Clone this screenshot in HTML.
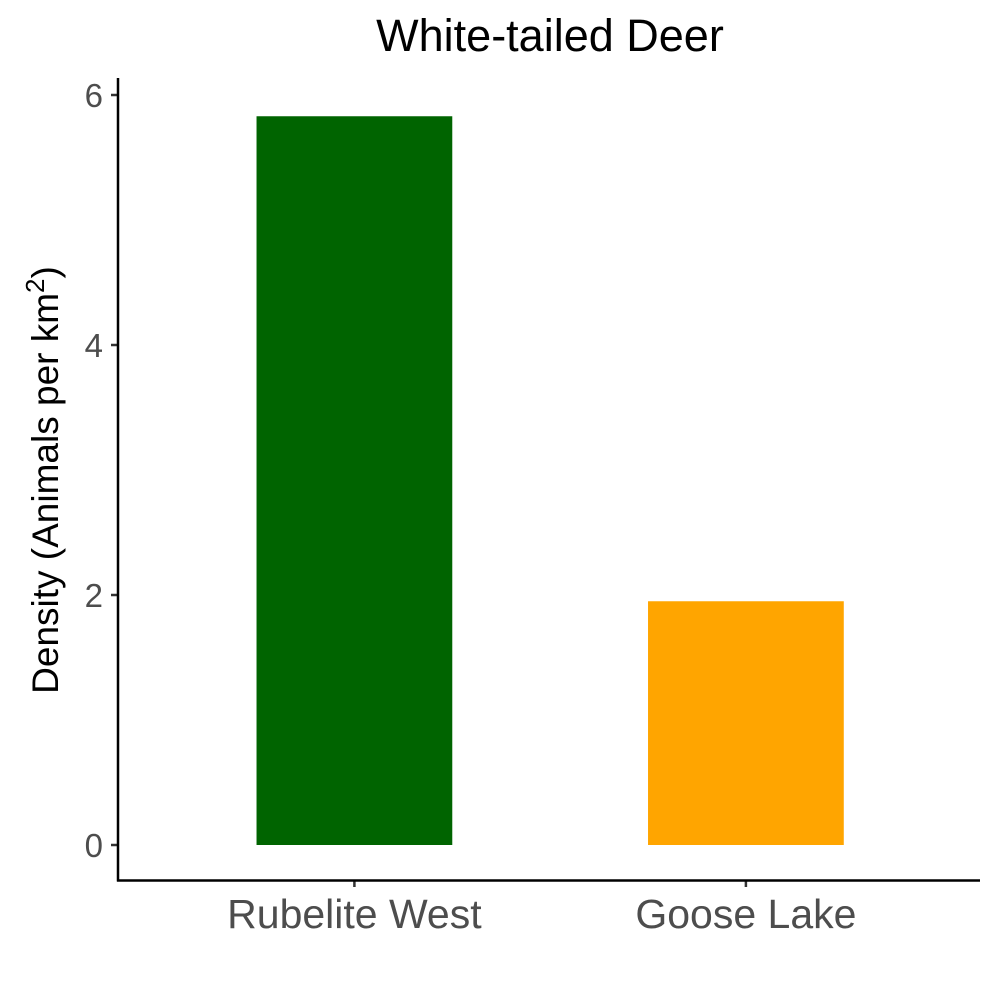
<!DOCTYPE html>
<html><head><meta charset="utf-8"><style>
body{margin:0;background:#fff}
svg{display:block;font-family:"Liberation Sans",Arial,sans-serif}
</style></head><body>
<svg id="chart" width="1000" height="1000">
<text x="550" y="51" font-size="45" text-anchor="middle" fill="#000">White-tailed Deer</text>
<text transform="translate(58,480) rotate(-90)" font-size="37" text-anchor="middle" fill="#000">Density (Animals per km<tspan dy="-14" font-size="26">2</tspan><tspan dy="14">)</tspan></text>
<g id="marks"></g>
<line x1="118" y1="78" x2="118" y2="881.5" stroke="#000" stroke-width="2.5"/>
<line x1="117" y1="880.5" x2="980" y2="880.5" stroke="#000" stroke-width="2.5"/>
</svg>
<script>
const categories = ["Rubelite West", "Goose Lake"];
const values = [5.83, 1.95];
const colors = ["#006400", "#FFA500"];
const yTicks = [0, 2, 4, 6];
const yTickLabels = ["0", "2", "4", "6"];

const ns = "http://www.w3.org/2000/svg";
const g = document.getElementById("marks");
const y = v => 845 - v * 125;
const step = 391.5;
const x = i => 119.5 + (0.6 + i) * step;
const bw = step * 0.5;

function mk(tag, attrs, text) {
  const e = document.createElementNS(ns, tag);
  for (const k in attrs) e.setAttribute(k, attrs[k]);
  if (text !== undefined) e.textContent = text;
  g.appendChild(e);
  return e;
}
categories.forEach((c, i) => {
  const b = mk("rect", {x: x(i) - bw / 2, y: y(values[i]), width: bw, height: y(0) - y(values[i]), fill: colors[i]});
  
  
  const t = mk("line", {x1: x(i), x2: x(i), y1: 880, y2: 887, stroke: "#333", "stroke-width": 2.5});
  
  
  const l = mk("text", {x: x(i), y: 928, "font-size": 41, "text-anchor": "middle", fill: "#4d4d4d"}, c);
  
  
});
yTicks.forEach((v, i) => {
  const t = mk("line", {x1: 111, x2: 118, y1: y(v), y2: y(v), stroke: "#333", "stroke-width": 2.5});
  
  
  const l = mk("text", {x: 103, y: y(v) + 12, "font-size": 33, "text-anchor": "end", fill: "#4d4d4d"}, yTickLabels[i]);
  
  
});
</script>
</body></html>
